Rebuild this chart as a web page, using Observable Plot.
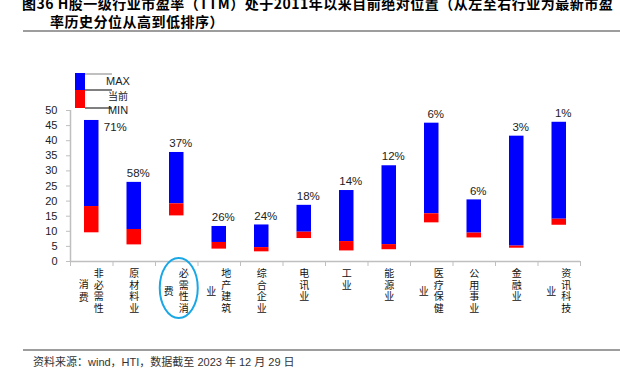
<!DOCTYPE html>
<html>
<head>
<meta charset="utf-8">
<script src="https://cdn.jsdelivr.net/npm/d3@7"></script>
<script src="https://cdn.jsdelivr.net/npm/@observablehq/plot@0.6"></script>
<style>
  body { margin: 0; background: #fff; }
  #wrap { position: relative; width: 620px; height: 371px; overflow: hidden; background: #fff; }
  #wrap > * { position: absolute; }
  .title { font-family: "Noto Sans CJK SC", sans-serif; font-weight: bold; font-size: 14px; line-height: 18px; color: #000; white-space: nowrap; letter-spacing: 0.5px; }
  .rule { height: 2px; background: #9d9d9d; left: 23px; width: 597px; }
  .foot { left: 33px; top: 354px; font-family: "Liberation Sans", "Noto Sans CJK SC", sans-serif; font-size: 11px; line-height: 16px; color: #333; white-space: nowrap; }
</style>
</head>
<body>
<div id="wrap">
  <div class="title" style="left:22px; top:-6px;">图36 H股一级行业市盈率（TTM）处于2011年以来目前绝对位置（从左至右行业为最新市盈</div>
  <div class="title" style="left:50px; top:12px;">率历史分位从高到低排序）</div>
  <div class="rule" style="top:30px;"></div>
  <div class="rule" style="top:349px;"></div>
  <div class="foot">资料来源：wind，HTI，数据截至 2023 年 12 月 29 日</div>
</div>
<script>
// ---- data ----
const categories = ["非必需性消费", "原材料业", "必需性消费", "地产建筑业", "综合企业", "电讯业", "工业", "能源业", "医疗保健业", "公用事业", "金融业", "资讯科技业"];
const maxPE     = [46.7, 26.2, 36.1, 11.6, 12.1, 18.6, 23.5, 31.7, 45.8, 20.4, 41.5, 46.1];
const currentPE = [18.2, 10.6, 19.1, 6.3, 4.6, 9.7, 6.6, 5.6, 15.8, 9.4, 5.1, 14.0];
const minPE     = [9.5, 5.5, 15.1, 4.1, 3.2, 7.6, 3.5, 3.9, 12.8, 7.8, 4.4, 12.0];
const percentile = ["71%", "58%", "37%", "26%", "24%", "18%", "14%", "12%", "6%", "6%", "3%", "1%"];
const yTicks = [0, 5, 10, 15, 20, 25, 30, 35, 40, 45, 50];
const legendLabels = ["MAX", "当前", "MIN"];
const highlighted = "必需性消费";

const rows = categories.map((c, i) => ({
  cat: c, i, max: maxPE[i], cur: currentPE[i], min: minPE[i], pct: percentile[i],
  col1: [...c].slice(0, 4).join("\n"),
  col2: [...c].slice(4).join("\n")
}));
const oneCol = rows.filter(d => !d.col2);
const twoCol = rows.filter(d => d.col2);
const center = d => d.i + 0.5;

const cjk = "Noto Sans CJK SC";
const plot = Plot.plot({
  width: 620,
  height: 371,
  marginLeft: 70,
  marginRight: 40,
  marginTop: 110,
  marginBottom: 110,
  style: { fontFamily: "Liberation Sans, Arial, sans-serif", fontSize: "11px", background: "transparent", color: "#222" },
  x: { type: "linear", domain: [0, categories.length] },
  y: { domain: [0, 50] },
  marks: [
    Plot.axisY({ ticks: yTicks, tickSize: 4, tickPadding: 9, stroke: "#bfbfbf", fill: "#222", fontSize: 11, label: null }),
    Plot.axisX({ ticks: d3.range(categories.length + 1), tickSize: 5, tickFormat: () => "", stroke: "#bfbfbf", label: null }),
    Plot.ruleX([0], { stroke: "#bfbfbf", strokeWidth: 1.5 }),
    Plot.ruleY([0], { stroke: "#bfbfbf", strokeWidth: 1.5 }),
    Plot.rectY(rows, { x1: "i", x2: d => d.i + 1, y1: "cur", y2: "max", fill: "#0000ff", insetLeft: 14, insetRight: 14 }),
    Plot.rectY(rows, { x1: "i", x2: d => d.i + 1, y1: "min", y2: "cur", fill: "#ff0000", insetLeft: 14, insetRight: 14 }),
    Plot.text(rows.slice(1), { x: center, y: "max", text: "pct", dy: -9, dx: 4, fontSize: 11.5, fill: "#222" }),
    Plot.text(rows.slice(0, 1), { x: center, y: "max", text: "pct", dy: 7, dx: 12, textAnchor: "start", fontSize: 11.5, fill: "#222" }),
    // category labels in vertical columns (right column first, then left)
    Plot.text(oneCol, { x: center, text: "col1", frameAnchor: "bottom", lineAnchor: "top", dy: 7, lineHeight: 1.17, fontSize: 10, fontFamily: cjk, fill: "#111" }),
    Plot.text(twoCol, { x: center, text: "col1", frameAnchor: "bottom", lineAnchor: "top", dy: 7, dx: 7, lineHeight: 1.17, fontSize: 10, fontFamily: cjk, fill: "#111" }),
    Plot.text(twoCol, { x: center, text: "col2", frameAnchor: "bottom", lineAnchor: "middle", dy: 29, dx: -8, lineHeight: 1.25, fontSize: 10, fontFamily: cjk, fill: "#111" })
  ]
});
plot.style.left = "0px";
plot.style.top = "0px";
document.getElementById("wrap").appendChild(plot);

// highlight ellipse around the 必需性消费 label
const xs = plot.scale("x");
const hi = rows.find(d => d.cat === highlighted);
d3.select(plot).append("ellipse")
  .attr("cx", xs.apply(center(hi)) + 2.5)
  .attr("cy", 288)
  .attr("rx", 19)
  .attr("ry", 30)
  .attr("fill", "none")
  .attr("stroke", "#1aa7e6")
  .attr("stroke-width", 2);

// legend (mini bar with leader lines)
const leg = d3.select(plot).append("g");
leg.append("rect").attr("x", 75).attr("y", 73).attr("width", 10).attr("height", 17).attr("fill", "#0000ff");
leg.append("rect").attr("x", 75).attr("y", 90).attr("width", 10).attr("height", 18).attr("fill", "#ff0000");
const ly = [74, 90, 108];
const lcol = ["#808080", "#000", "#000"];
ly.forEach((y, k) => {
  leg.append("line").attr("x1", 85).attr("x2", 112).attr("y1", y).attr("y2", y).attr("stroke", lcol[k]).attr("stroke-width", 1);
});
const ty = [81.5, 96.5, 110];
legendLabels.forEach((t, k) => {
  leg.append("text").attr("x", 118).attr("y", ty[k]).attr("dy", "0.35em")
    .attr("font-size", k === 1 ? 10 : 11)
    .attr("font-family", k === 1 ? cjk : "Liberation Sans, Arial, sans-serif")
    .attr("fill", "#222").text(t);
});
</script>
</body>
</html>
